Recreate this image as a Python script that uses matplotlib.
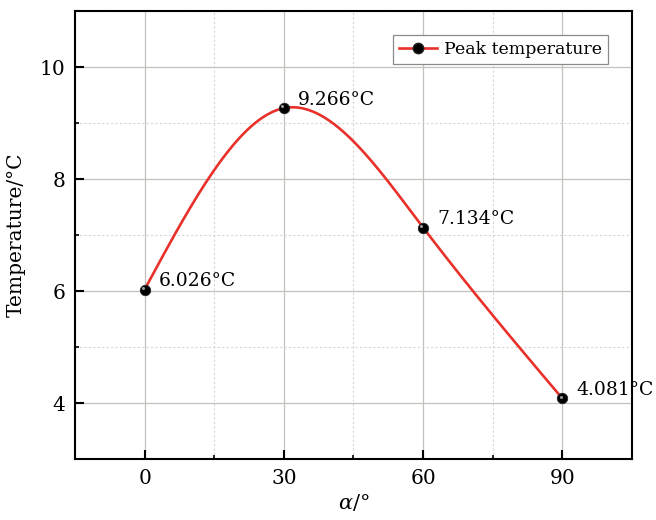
import numpy as np
import matplotlib
matplotlib.use("Agg")
import matplotlib.pyplot as plt
from matplotlib.ticker import MultipleLocator
from matplotlib.transforms import offset_copy

# peak temperature at each angle
alpha = [0, 30, 60, 90]
peak_temp = [6.026, 9.266, 7.134, 4.081]
labels = ["6.026°C", "9.266°C", "7.134°C", "4.081°C"]

plt.rcParams["font.family"] = ["DejaVu Serif"]
plt.rcParams["mathtext.fontset"] = "dejavuserif"


def natural_spline(x, y, n=300):
    # natural cubic spline through the measured points (smooth connecting line)
    x = np.asarray(x, float)
    y = np.asarray(y, float)
    k = len(x)
    h = np.diff(x)
    A = np.zeros((k, k))
    b = np.zeros(k)
    A[0, 0] = A[-1, -1] = 1
    for i in range(1, k - 1):
        A[i, i - 1] = h[i - 1]
        A[i, i] = 2 * (h[i - 1] + h[i])
        A[i, i + 1] = h[i]
        b[i] = 6 * ((y[i + 1] - y[i]) / h[i] - (y[i] - y[i - 1]) / h[i - 1])
    M = np.linalg.solve(A, b)
    xs = np.linspace(x[0], x[-1], n)
    idx = np.clip(np.searchsorted(x, xs) - 1, 0, k - 2)
    x0, x1 = x[idx], x[idx + 1]
    hh = x1 - x0
    ys = (M[idx] * (x1 - xs) ** 3 / (6 * hh) + M[idx + 1] * (xs - x0) ** 3 / (6 * hh)
          + (y[idx] / hh - M[idx] * hh / 6) * (x1 - xs)
          + (y[idx + 1] / hh - M[idx + 1] * hh / 6) * (xs - x0))
    return xs, ys


fig = plt.figure(figsize=(6.56, 5.20), dpi=100)
ax = fig.add_axes([0.1143, 0.1173, 0.8491, 0.8615])

xs, ys = natural_spline(alpha, peak_temp)
ax.plot(xs, ys, color="#e8312b", lw=1.9, zorder=3)
ax.plot(alpha, peak_temp, ls="none", marker="o", ms=7.5, mfc="black",
        mec="#222222", mew=0.6, zorder=4)
# little highlight on the markers
hl = offset_copy(ax.transData, fig=fig, x=-1.2, y=1.2, units="points")
ax.plot(alpha, peak_temp, ls="none", marker="o", ms=2.2, mfc="#9a9a9a",
        mec="none", transform=hl, zorder=5)

# legend proxy
ax.plot([], [], color="#e8312b", lw=1.9, marker="o", ms=7.5, mfc="black",
        mec="#222222", label="Peak temperature")

for x, y, t in zip(alpha, peak_temp, labels):
    ax.annotate(t, (x, y), xytext=(10, 6), textcoords="offset points",
                ha="left", va="center", fontsize=13.5, zorder=6)

ax.set_xlim(-15, 105)
ax.set_ylim(3, 11)
ax.xaxis.set_major_locator(MultipleLocator(30))
ax.xaxis.set_minor_locator(MultipleLocator(15))
ax.yaxis.set_major_locator(MultipleLocator(2))
ax.yaxis.set_minor_locator(MultipleLocator(1))
ax.set_yticks([4, 6, 8, 10])

ax.grid(which="major", color="#c4c0be", lw=0.9, zorder=0)
ax.grid(which="minor", color="#d6d6d6", lw=0.8, ls=(0, (2, 2)), zorder=0)
ax.set_axisbelow(True)

ax.tick_params(which="major", direction="in", length=6.5, width=1.5,
               labelsize=14.5, top=False, right=False, pad=7)
ax.tick_params(which="minor", direction="in", length=3, width=1.2,
               top=False, right=False)
for s in ax.spines.values():
    s.set_linewidth(1.5)

ax.set_xlabel(r"$\alpha$/°", fontsize=15, labelpad=3)
ax.set_ylabel("Temperature/°C", fontsize=14.5, labelpad=10)

leg = ax.legend(loc="upper right", bbox_to_anchor=(0.957, 0.946),
                borderaxespad=0, fontsize=12.5, fancybox=False,
                edgecolor="#8a8a8a", framealpha=1, handlelength=2.2,
                handletextpad=0.4, borderpad=0.35)
leg.get_frame().set_linewidth(0.9)

fig.savefig("out.png", dpi=100)
